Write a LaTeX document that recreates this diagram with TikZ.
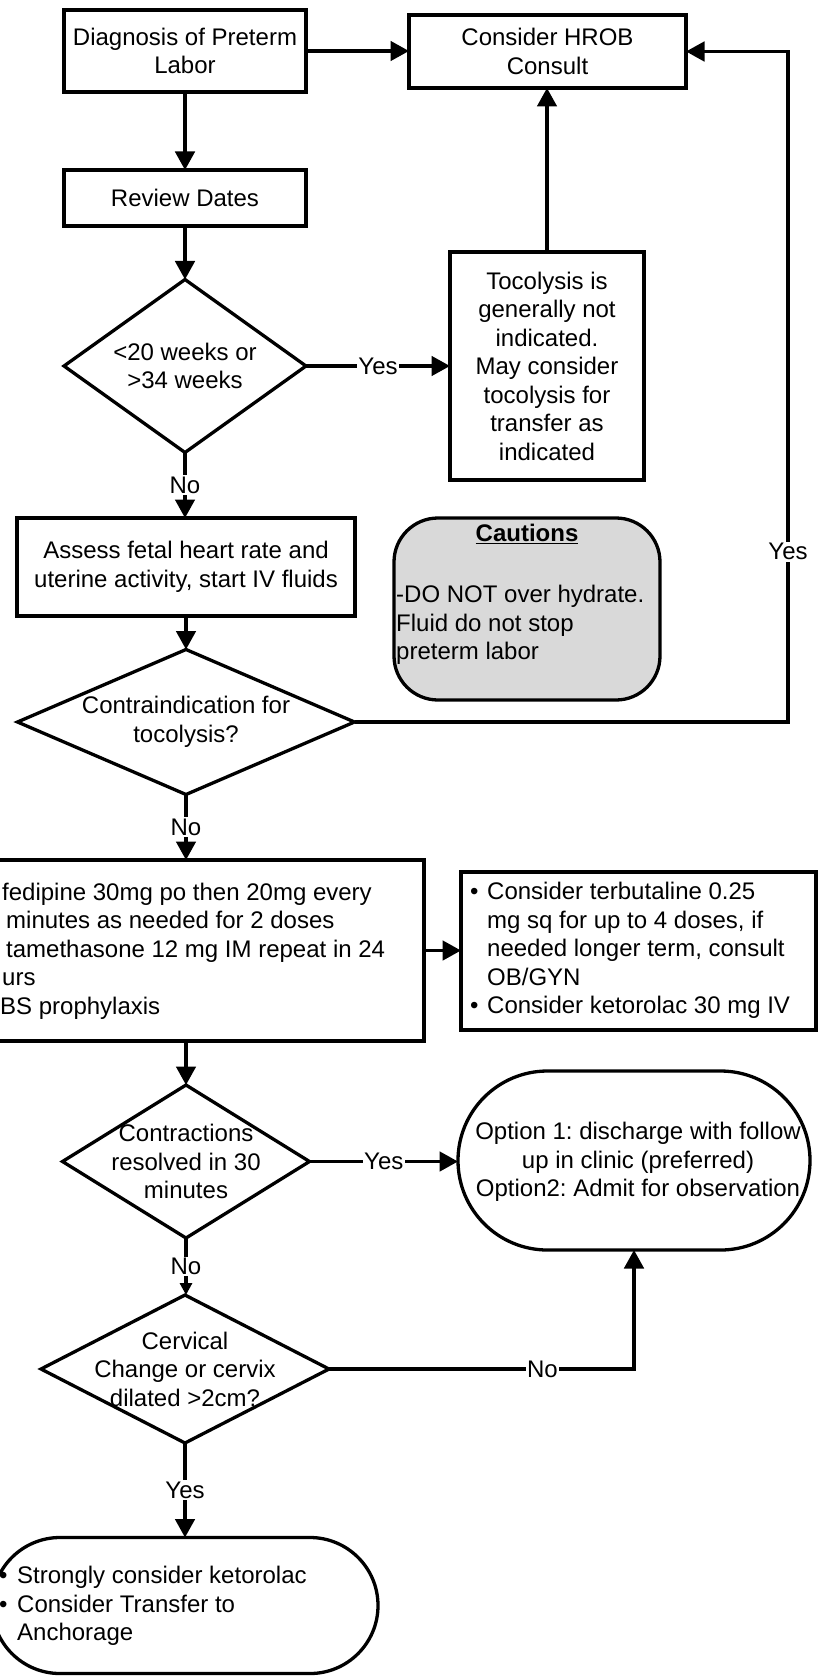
\documentclass[tikz,border=0pt]{standalone}
\usepackage{fontspec}
\setmainfont{Liberation Sans}
\usetikzlibrary{shapes.geometric,shapes.misc,arrows.meta}
\definecolor{cautiongray}{RGB}{217,217,217}
\newcommand\myfs{\fontsize{24pt}{28.5pt}\selectfont\frenchspacing}
\begin{document}
\begin{tikzpicture}[x=1pt,y=-1pt,
  lw/.style={line width=3.3pt},
  boxnode/.style={draw, lw, rectangle, inner sep=0pt, outer sep=0pt, align=center, font=\myfs},
  dianode/.style={draw, lw, diamond, inner sep=0pt, outer sep=0pt},
  stadnode/.style={draw, lw, rounded rectangle, inner sep=0pt, outer sep=0pt},
  txt/.style={inner sep=0pt, align=center, font=\myfs},
  ltxt/.style={inner sep=0pt, align=left, font=\myfs, anchor=west},
  lbl/.style={fill=white, inner sep=1.5pt, font=\myfs},
  arr/.style={lw, -{Triangle[length=18.5pt,width=19.5pt]}},
  sarr/.style={lw, -{Triangle[length=12pt,width=12pt]}}]

\fill[white] (0,0) rectangle (817,1680);
\useasboundingbox (0,0) rectangle (817,1680);

\node[boxnode, minimum width=242pt, minimum height=82pt] (diag) at (185,51) {Diagnosis of Preterm\\Labor};
\node[boxnode, minimum width=277pt, minimum height=73pt] (hrob) at (547.5,51.5) {Consider HROB\\Consult};
\node[boxnode, minimum width=242pt, minimum height=56pt] (rev) at (185,198) {Review Dates};
\node[dianode, minimum width=242pt, minimum height=173pt] (d1) at (185,366) {};
\node[txt] (d1t) at (d1) {<20 weeks or\\>34 weeks};
\node[boxnode, minimum width=194pt, minimum height=228pt] (toco) at (547,366) {Tocolysis is\\generally not\\indicated.\\May consider\\tocolysis for\\transfer as\\indicated};
\node[boxnode, minimum width=338pt, minimum height=98pt] (assess) at (186,567) {Assess fetal heart rate and\\uterine activity, start IV fluids};
\node[draw, lw, fill=cautiongray, rounded corners=44pt, minimum width=266pt, minimum height=182pt, inner sep=0pt] (caut) at (527,609) {};
\node[txt] (cautt) at (527,534) {\textbf{\underline{Cautions}}};
\node[ltxt] (cautb) at (396,625) {-DO NOT over hydrate.\\Fluid do not stop\\preterm labor};
\node[dianode, minimum width=337pt, minimum height=145pt] (d2) at (186,722) {};
\node[txt] (d2t) at (d2) {Contraindication for\\tocolysis?};
\node[boxnode, minimum width=464pt, minimum height=181pt] (nife) at (192,950.5) {};
\node[ltxt] (nifet) at (0,951) {\hspace*{2pt}fedipine 30mg po then 20mg every\\\hspace*{6pt}minutes as needed for 2 doses\\\hspace*{6pt}tamethasone 12 mg IM repeat in 24\\\hspace*{2pt}urs\\BS prophylaxis};
\node[boxnode, minimum width=355pt, minimum height=158pt] (terb) at (638.5,951) {};
\node[ltxt] (terbt) at (470,950.5) {\makebox[17pt][l]{•}Consider terbutaline 0.25\\\hspace*{17pt}mg sq for up to 4 doses, if\\\hspace*{17pt}needed longer term, consult\\\hspace*{17pt}OB/GYN\\\makebox[17pt][l]{•}Consider ketorolac 30 mg IV};
\node[dianode, minimum width=247pt, minimum height=153pt] (d3) at (186,1161.5) {};
\node[txt] (d3t) at (d3) {Contractions\\resolved in 30\\minutes};
\node[stadnode, minimum width=352pt, minimum height=179pt] (opt) at (634,1160.5) {};
\node[txt] (optt) at (638,1162) {Option 1: discharge with follow\\up in clinic (preferred)\\Option2: Admit for observation};
\node[dianode, minimum width=288pt, minimum height=148pt] (d4) at (185,1369) {};
\node[txt] (d4t) at (d4) {Cervical\\Change or cervix\\dilated >2cm?};
\node[stadnode, minimum width=386pt, minimum height=136pt] (strong) at (185,1605.5) {};
\node[ltxt] (strongt) at (-1,1606) {\makebox[18pt][l]{•}Strongly consider ketorolac\\\makebox[18pt][l]{•}Consider Transfer to\\\hspace*{18pt}Anchorage};

\coordinate (rc) at (788,722);

\draw[arr] (diag.east) -- (diag.east -| hrob.west);
\draw[arr] (diag.south) -- (rev.north);
\draw[arr] (rev.south) -- (d1.north);
\draw[arr] (d1.east) -- node[lbl]{Yes} (toco.west);
\draw[arr] (toco.north) -- (toco.north |- hrob.south);
\draw[arr] (d1.south) -- node[lbl]{No} (d1.south |- assess.north);
\draw[arr] (assess.south) -- (assess.south -| d2.north) -- (d2.north);
\draw[arr] (d2.east) -- (rc) |- node[lbl, pos=0.127]{Yes} (hrob.east);
\draw[arr] (d2.south) -- node[lbl]{No} (d2.south |- nife.north);
\draw[arr] (nife.east) -- (nife.east -| terb.west);
\draw[arr] (d3.north |- nife.south) -- (d3.north);
\draw[arr] (d3.east) -- node[lbl]{Yes} (d3.east -| opt.west);
\draw[sarr] (d3.south) -- node[lbl]{No} (d3.south |- d4.north);
\draw[arr] (d4.east) -| node[lbl, pos=0.35]{No} (opt.south);
\draw[arr] (d4.south) -- node[lbl]{Yes} (d4.south |- strong.north);
\end{tikzpicture}
\end{document}
